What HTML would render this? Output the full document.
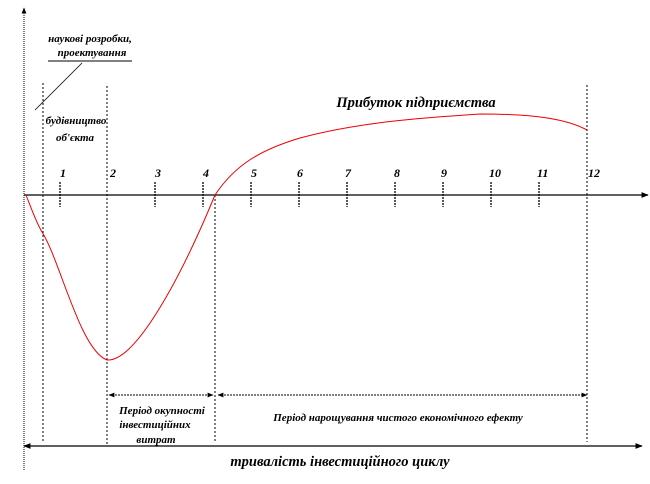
<!DOCTYPE html>
<html><head><meta charset="utf-8"><style>
body{margin:0;background:#fff}
svg{display:block}
text{font-family:"Liberation Serif",serif;font-style:italic;font-weight:bold;fill:#000}
</style></head><body>
<svg width="650" height="484" viewBox="0 0 650 484" xmlns="http://www.w3.org/2000/svg">
<defs>
<marker id="a" viewBox="0 0 10 10" refX="9" refY="5" markerWidth="6" markerHeight="6" orient="auto-start-reverse"><path d="M0,1 L10,5 L0,9z" fill="#000"/></marker>
</defs>
<line x1="24" y1="470" x2="24" y2="8" stroke="#000" stroke-width="1" stroke-dasharray="1,1" marker-end="url(#a)"/>
<line x1="24" y1="195" x2="648" y2="195" stroke="#000" stroke-width="1.2" marker-end="url(#a)"/>
<g stroke="#000" stroke-width="1" stroke-dasharray="2,2">
<line x1="43" y1="83" x2="43" y2="442"/>
<line x1="107" y1="86" x2="107" y2="445"/>
<line x1="215" y1="195" x2="215" y2="442"/>
<line x1="587" y1="85" x2="587" y2="442"/>
</g>
<g stroke="#000" stroke-width="1.3" stroke-dasharray="2,1">
<line x1="60" y1="182" x2="60" y2="207"/><line x1="155" y1="182" x2="155" y2="207"/>
<line x1="203" y1="182" x2="203" y2="207"/><line x1="251" y1="182" x2="251" y2="207"/>
<line x1="299" y1="182" x2="299" y2="207"/><line x1="347" y1="182" x2="347" y2="207"/>
<line x1="395" y1="182" x2="395" y2="207"/><line x1="443" y1="182" x2="443" y2="207"/>
<line x1="491" y1="182" x2="491" y2="207"/><line x1="539" y1="182" x2="539" y2="207"/>
</g>
<g font-size="12">
<text x="60" y="177">1</text><text x="110" y="177">2</text><text x="155" y="177">3</text>
<text x="203" y="177">4</text><text x="251" y="177">5</text><text x="297" y="177">6</text>
<text x="345" y="177">7</text><text x="394" y="177">8</text><text x="441" y="177">9</text>
<text x="489" y="177">10</text><text x="537" y="177">11</text><text x="588" y="177">12</text>
</g>
<path d="M26,195 C32,210 36,222 42,232 C60,260 80,350 107,360 C135,362 180,280 215,195 C235,165 260,150 300,138 C360,122 420,118 480,114 C530,114 565,118 587,130" fill="none" stroke="#e00" stroke-width="1"/>
<line x1="48" y1="61" x2="132" y2="61" stroke="#000"/>
<line x1="82" y1="63" x2="35" y2="110" stroke="#000" stroke-width="0.8"/>
<text x="90" y="42" font-size="11" text-anchor="middle">наукові розробки,</text>
<text x="92" y="56" font-size="11" text-anchor="middle">проектування</text>
<text x="76" y="124" font-size="11" text-anchor="middle">будівництво</text>
<text x="75" y="141" font-size="11" text-anchor="middle">об'єкта</text>
<text x="416" y="107" font-size="14.5" text-anchor="middle">Прибуток підприємства</text>
<line x1="109" y1="395" x2="213" y2="395" stroke="#000" stroke-dasharray="2,1" marker-start="url(#a)" marker-end="url(#a)"/>
<line x1="218" y1="395" x2="587" y2="395" stroke="#000" stroke-dasharray="2,1" marker-start="url(#a)" marker-end="url(#a)"/>
<line x1="24" y1="446" x2="642" y2="446" stroke="#000" stroke-width="1.2" marker-start="url(#a)" marker-end="url(#a)"/>
<text x="162" y="414" font-size="11" text-anchor="middle">Період окупності</text>
<text x="155" y="428" font-size="11" text-anchor="middle">інвестиційних</text>
<text x="156" y="443" font-size="11" text-anchor="middle">витрат</text>
<text x="398" y="421" font-size="11" text-anchor="middle">Період нарощування чистого економічного ефекту</text>
<text x="340" y="466" font-size="14.5" text-anchor="middle">тривалість інвестиційного циклу</text>
</svg>
</body></html>
